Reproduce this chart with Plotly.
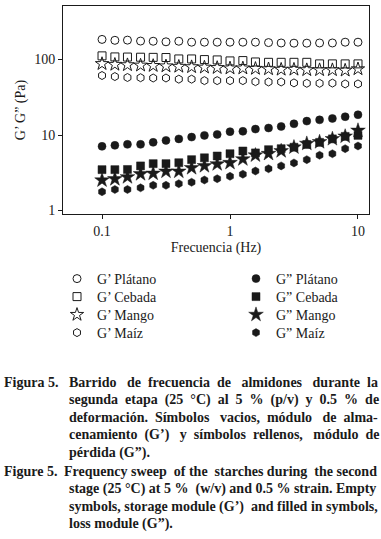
import plotly.graph_objects as go

freq = [0.1, 0.126, 0.158, 0.2, 0.251, 0.316, 0.398, 0.501, 0.631, 0.794,
        1.0, 1.26, 1.58, 2.0, 2.51, 3.16, 3.98, 5.01, 6.31, 7.94, 10.0]

gp_platano = [185, 180, 181, 176, 175, 172, 175, 170, 170, 170,
              170, 170, 170, 168, 166, 165, 165, 166, 166, 170, 170]
gp_cebada = [112, 108.5, 108, 107.5, 107, 106.5, 102, 102, 100, 99,
             96, 97, 93, 92, 92, 92, 92, 87.7, 87.7, 87.7, 87.7]
gp_mango = [88, 86, 85, 84, 83, 82, 81, 80, 79, 78,
            77, 77, 76, 75, 74, 74, 73, 73, 73, 72, 75]
gp_maiz = [61.5, 59.6, 57.9, 57.5, 57, 57, 55, 55, 52.6, 52.6,
           52.6, 52.6, 51, 50.5, 50.5, 49.1, 48.5, 48.5, 48.8, 47.6, 47.6]

gpp_platano = [7.08, 7.3, 7.53, 7.53, 8.0, 8.5, 8.9, 9.4, 9.9, 10.2,
               11.1, 11.2, 12.0, 12.4, 13.0, 14.1, 15.3, 15.9, 16.6, 17.5, 18.6]
gpp_cebada = [3.48, 3.48, 3.5, 3.9, 4.18, 4.18, 4.3, 4.72, 5.0, 5.28,
              5.66, 6.15, 5.8, 6.4, 6.6, 6.9, 7.5, 8.0, 8.9, 9.6, 9.9]
gpp_mango = [2.52, 2.62, 2.78, 3.05, 3.1, 3.3, 3.3, 3.67, 3.9, 4.13,
             4.3, 4.8, 5.4, 5.66, 6.15, 6.9, 7.7, 8.1, 8.9, 9.6, 11.5]
gpp_maiz = [1.77, 1.9, 1.9, 2.0, 2.16, 2.16, 2.27, 2.37, 2.54, 2.64,
            2.84, 3.03, 3.34, 3.58, 3.9, 4.27, 4.72, 5.4, 5.66, 6.6, 7.16]

x_ticks = [0.1, 1, 10]
x_ticktext = ["0.1", "1", "10"]
y_ticks = [1, 10, 100]
y_ticktext = ["1", "10", "100"]

# (text, left px, top-line px, justified?)
caption_lines = [
    ("Figura 5.", 2, 382, False),
    ("Barrido de frecuencia de almidones durante la", 67, 382, True),
    ("segunda etapa (25 °C) al 5 % (p/v) y 0.5 % de", 67, 399.8, True),
    ("deformación. Símbolos vacios, módulo de alma-", 67, 417.6, True),
    ("cenamiento (G’) y símbolos rellenos, módulo de", 67, 435.4, True),
    ("pérdida (G”).", 67, 453.2, False),
    ("Figure 5.", 2, 471, False),
    ("Frequency sweep of the starches during the second", 62, 471, True),
    ("stage (25 °C) at 5 % (w/v) and 0.5 % strain. Empty", 67, 488.8, True),
    ("symbols, storage module (G’) and filled in symbols,", 67, 506.6, True),
    ("loss module (G”).", 67, 524.4, False),
]

W, H = 381, 539
L, R, T, B = 63, 369, 6, 214
FONT = "Liberation Serif"
INK = "#1a1a1a"
CAP_SIZE = 14
CAP_RIGHT = 376

# approximate Times-Bold advance widths (1/1000 em), for justification
_TB = {' ': 250, 'a': 500, 'b': 556, 'c': 444, 'd': 556, 'e': 444, 'f': 333,
       'g': 500, 'h': 556, 'i': 278, 'j': 333, 'k': 556, 'l': 278, 'm': 833,
       'n': 556, 'o': 500, 'p': 556, 'q': 556, 'r': 444, 's': 389, 't': 333,
       'u': 556, 'v': 500, 'w': 722, 'x': 500, 'y': 500, 'z': 444,
       'á': 500, 'é': 444, 'í': 278, 'ó': 500, 'B': 667, 'E': 667, 'F': 611,
       'G': 778, 'S': 556, 'C': 722, '(': 333, ')': 333, '.': 250, ',': 250,
       '%': 1000, '/': 278, '°': 400, '-': 333, '’': 333, '”': 500}


def text_width(s, size):
    return sum(_TB.get(c, 500) for c in s) * size / 1000.0


def justify(text, left, right, size):
    words = text.split(' ')
    gaps = len(words) - 1
    extra = right - left - text_width(text, size)
    nb = 0.25 * size
    n_extra = max(0, int(round(extra / nb)))
    out = words[0]
    given = 0
    for g in range(gaps):
        target = int(round(n_extra * (g + 1) / gaps))
        add = target - given
        given = target
        out += ' ' + '\u00a0' * add + words[g + 1]
    return out


def px_x(px):
    return (px - L) / (R - L)


def px_y(py):
    return (B - py) / (B - T)


fig = go.Figure()

row_y = [279, 297, 315, 333]

open_series = [
    ("G’ Plátano", gp_platano, "circle-open", 8),
    ("G’ Cebada", gp_cebada, "square-open", 8),
    ("G’ Mango", gp_mango, "star-open", 10),
    ("G’ Maíz", gp_maiz, "hexagon-open", 8),
]
filled_series = [
    ("G” Plátano", gpp_platano, "circle", 8),
    ("G” Cebada", gpp_cebada, "square", 8),
    ("G” Mango", gpp_mango, "star", 11),
    ("G” Maíz", gpp_maiz, "hexagon", 8),
]

legend_layouts = {}
k = 0
for series, lx, lw in [(open_series, 57, 1), (filled_series, 236, 0.5)]:
    for i, (name, vals, sym, size) in enumerate(series):
        k += 1
        lname = "legend" if k == 1 else f"legend{k}"
        fig.add_trace(go.Scatter(
            x=freq, y=vals, mode="markers", name=name, legend=lname,
            marker=dict(symbol=sym, size=size, color=INK,
                        line=dict(width=lw, color=INK)),
        ))
        legend_layouts[lname] = dict(
            x=px_x(lx), y=px_y(row_y[i]), xanchor="left", yanchor="middle",
            font=dict(family=FONT, size=14, color=INK),
            bgcolor="rgba(0,0,0,0)", borderwidth=0,
        )

annotations = []
for text, x, y, just in caption_lines:
    t = justify(text, x, CAP_RIGHT, CAP_SIZE) if just else text
    annotations.append(dict(
        text=t, x=px_x(x), y=px_y(y), xref="paper", yref="paper",
        xanchor="left", yanchor="middle", showarrow=False,
        font=dict(family=FONT, size=CAP_SIZE, color=INK, weight="bold"),
    ))

fig.update_layout(
    width=W, height=H,
    margin=dict(l=L, r=W - R, t=T, b=H - B),
    paper_bgcolor="white", plot_bgcolor="white",
    font=dict(family=FONT, size=13, color=INK),
    showlegend=True,
    xaxis=dict(
        type="log", range=[-1.305, 1.086],
        tickvals=x_ticks, ticktext=x_ticktext,
        ticks="outside", ticklen=4, tickcolor=INK,
        showline=True, linecolor=INK, linewidth=1, mirror=True,
        showgrid=False, zeroline=False,
        tickfont=dict(family=FONT, size=14, color=INK),
        title=dict(text="Frecuencia (Hz)", standoff=4,
                   font=dict(family=FONT, size=14, color=INK)),
    ),
    yaxis=dict(
        type="log", range=[-0.046, 2.71],
        tickvals=y_ticks, ticktext=y_ticktext,
        ticks="outside", ticklen=4, tickcolor=INK,
        showline=True, linecolor=INK, linewidth=1, mirror=True,
        showgrid=False, zeroline=False,
        tickfont=dict(family=FONT, size=14, color=INK),
        title=dict(text="G’ G” (Pa)", standoff=5,
                   font=dict(family=FONT, size=14, color=INK)),
    ),
    annotations=annotations,
    **legend_layouts,
)

fig.write_html("out.html", config={"displayModeBar": False},
               post_script="document.body.style.margin='0';document.body.style.padding='0';")
